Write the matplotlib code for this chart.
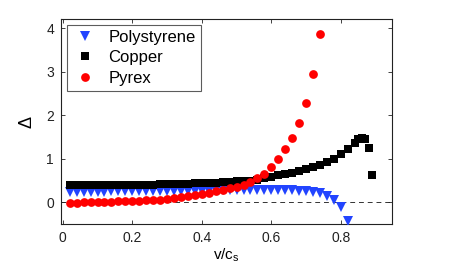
import numpy as np
import matplotlib
matplotlib.use("Agg")
import matplotlib.pyplot as plt

plt.rcParams['font.family'] = ['Liberation Sans', 'DejaVu Sans']

# ---- data ----
x_poly = [0.02, 0.04, 0.06, 0.08, 0.10, 0.12, 0.14, 0.16, 0.18, 0.20,
          0.22, 0.24, 0.26, 0.28, 0.30, 0.32, 0.34, 0.36, 0.38, 0.40,
          0.42, 0.44, 0.46, 0.48, 0.50, 0.52, 0.54, 0.56, 0.58, 0.60,
          0.62, 0.64, 0.66, 0.68, 0.70, 0.72, 0.74, 0.76, 0.78, 0.80, 0.82]
y_poly = [0.24, 0.24, 0.24, 0.24, 0.245, 0.245, 0.25, 0.25, 0.25, 0.25,
          0.255, 0.255, 0.26, 0.26, 0.26, 0.265, 0.265, 0.27, 0.27, 0.27,
          0.27, 0.275, 0.275, 0.275, 0.28, 0.28, 0.28, 0.28, 0.28, 0.28,
          0.28, 0.28, 0.275, 0.27, 0.26, 0.24, 0.21, 0.15, 0.06, -0.11, -0.42]

x_copper = [0.02, 0.04, 0.06, 0.08, 0.10, 0.12, 0.14, 0.16, 0.18, 0.20,
            0.22, 0.24, 0.26, 0.28, 0.30, 0.32, 0.34, 0.36, 0.38, 0.40,
            0.42, 0.44, 0.46, 0.48, 0.50, 0.52, 0.54, 0.56, 0.58, 0.60,
            0.62, 0.64, 0.66, 0.68, 0.70, 0.72, 0.74, 0.76, 0.78, 0.80,
            0.82, 0.84, 0.85, 0.86, 0.87, 0.88, 0.89]
y_copper = [0.39, 0.39, 0.39, 0.39, 0.39, 0.395, 0.395, 0.40, 0.40, 0.40,
            0.405, 0.41, 0.41, 0.415, 0.42, 0.42, 0.425, 0.43, 0.44, 0.445,
            0.45, 0.455, 0.46, 0.47, 0.48, 0.49, 0.50, 0.52, 0.55, 0.585,
            0.62, 0.65, 0.68, 0.72, 0.77, 0.82, 0.87, 0.92, 1.00, 1.11,
            1.22, 1.37, 1.45, 1.47, 1.45, 1.25, 0.63]

x_pyrex = [0.02, 0.04, 0.06, 0.08, 0.10, 0.12, 0.14, 0.16, 0.18, 0.20,
           0.22, 0.24, 0.26, 0.28, 0.30, 0.32, 0.34, 0.36, 0.38, 0.40,
           0.42, 0.44, 0.46, 0.48, 0.50, 0.52, 0.54, 0.56, 0.58, 0.60,
           0.62, 0.64, 0.66, 0.68, 0.70, 0.72, 0.74]
y_pyrex = [-0.01, -0.01, 0.0, 0.0, 0.005, 0.01, 0.015, 0.02, 0.025, 0.03,
           0.04, 0.045, 0.055, 0.065, 0.075, 0.10, 0.12, 0.145, 0.175, 0.20,
           0.225, 0.255, 0.285, 0.32, 0.36, 0.41, 0.47, 0.55, 0.66, 0.82,
           1.00, 1.22, 1.47, 1.82, 2.29, 2.95, 3.88]

xticks = [0, 0.2, 0.4, 0.6, 0.8]
xticklabels = ['0', '0.2', '0.4', '0.6', '0.8']
yticks = [0, 1, 2, 3, 4]

# ---- figure ----
fig = plt.figure(figsize=(4.57, 2.63), dpi=100)
ax = fig.add_axes([0.1335, 0.148, 0.725, 0.78])

ax.axhline(0, color='#333333', linestyle=(0, (5, 4)), linewidth=0.7, zorder=1)

ax.plot(x_poly, y_poly, linestyle='none', marker='v', markersize=6.5,
        color='#2244ff', markeredgewidth=0, label='Polystyrene', zorder=3)
ax.plot(x_copper, y_copper, linestyle='none', marker='s', markersize=5.2,
        color='black', markeredgewidth=0, label='Copper', zorder=3)
ax.plot(x_pyrex, y_pyrex, linestyle='none', marker='o', markersize=6.3,
        color='#ff0000', markeredgewidth=0, label='Pyrex', zorder=4)

ax.set_xlim(-0.005, 0.948)
ax.set_ylim(-0.5, 4.22)
ax.set_xticks(xticks)
ax.set_xticklabels(xticklabels)
ax.set_yticks(yticks)
ax.tick_params(direction='in', top=True, right=True, length=3, width=0.6,
               labelsize=10, pad=5, colors='#222222')
for s in ax.spines.values():
    s.set_linewidth(0.8)
    s.set_color('#222222')

ax.set_xlabel('v/c$_\\mathregular{s}$', fontsize=11, labelpad=1)
ax.set_ylabel('Δ', fontsize=13, labelpad=8)

leg = ax.legend(loc='upper left', fontsize=12, frameon=True, fancybox=False,
                borderpad=0.3, handletextpad=0.6, labelspacing=0.33,
                handlelength=1.6, borderaxespad=0.35)
leg.get_frame().set_edgecolor('#333333')
leg.get_frame().set_linewidth(0.8)

fig.savefig('out.png', dpi=100)
